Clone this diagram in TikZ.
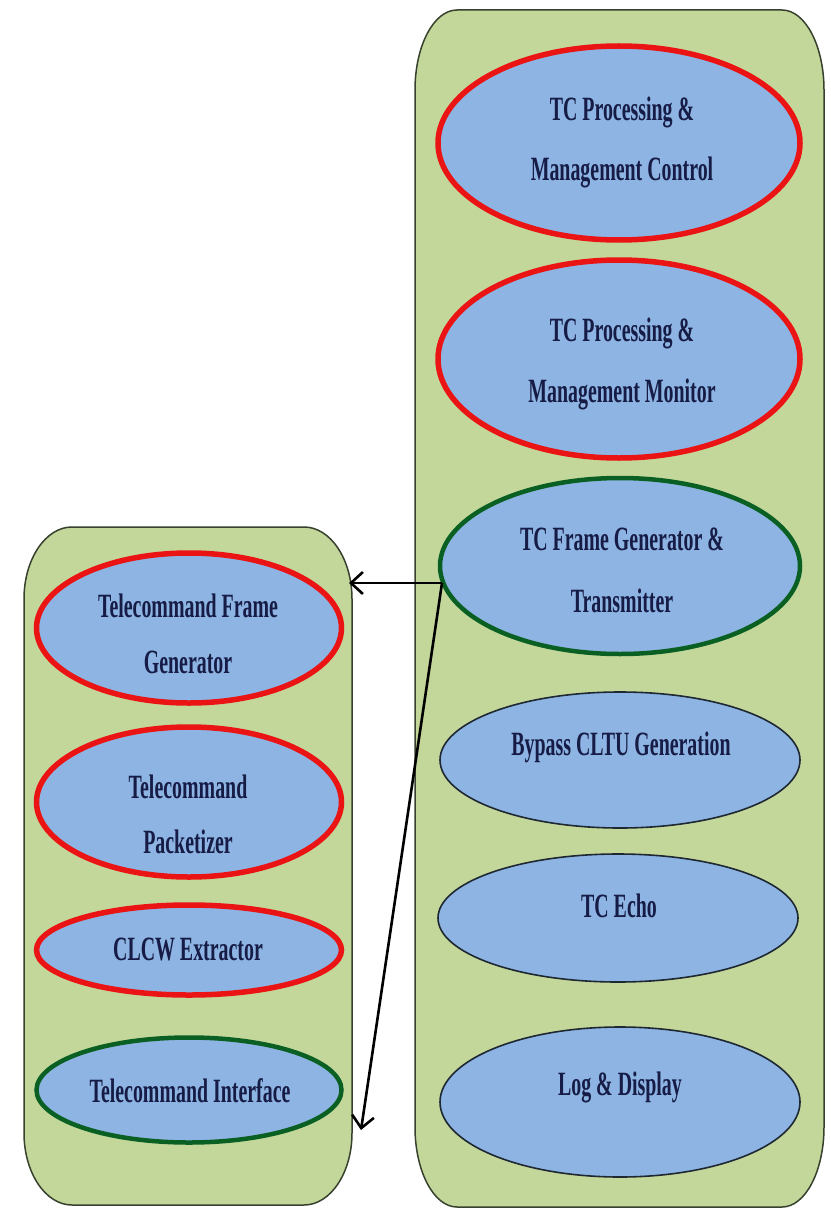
\documentclass[tikz,border=0pt]{standalone}
\usepackage{fontspec}
\setmainfont{Liberation Serif}
\newfontfamily\condfont[FakeStretch=0.585]{Liberation Serif}
\usetikzlibrary{shapes.geometric,arrows.meta,calc}
\definecolor{panelgreen}{RGB}{196,215,155}
\definecolor{panelline}{RGB}{55,65,45}
\definecolor{ellblue}{RGB}{141,180,226}
\definecolor{redline}{RGB}{235,20,20}
\definecolor{greenline}{RGB}{10,95,35}
\definecolor{darkline}{RGB}{30,40,50}
\definecolor{navytext}{RGB}{22,28,70}
\begin{document}
\begin{tikzpicture}[x=1pt,y=-1pt,
  panel/.style={fill=panelgreen,draw=panelline,line width=1.5pt},
  ell/.style={ellipse,fill=ellblue,inner sep=0pt,outer sep=0pt},
  redell/.style={ell,draw=redline,line width=5.5pt},
  greenell/.style={ell,draw=greenline,line width=4.5pt},
  plainell/.style={ell,draw=darkline,line width=1.6pt},
  txt/.style={inner sep=0pt,outer sep=0pt,text=navytext,align=center,
    font=\condfont\bfseries\fontsize{34}{#1}\selectfont},
  txt/.default=60,
  arr/.style={draw=black,line width=2.6pt,-{Straight Barb[length=12pt,width=22pt,line width=2.6pt]}}
]
\useasboundingbox (0,0) rectangle (830,1209);
\fill[white] (0,0) rectangle (830,1209);

% right panel
\draw[panel] (457,10) -- (782,10) .. controls (805.2,10) and (824,45.8) .. (824,90)
  -- (824,1127) .. controls (824,1171.2) and (805.2,1207) .. (782,1207)
  -- (457,1207) .. controls (433.8,1207) and (415,1171.2) .. (415,1127)
  -- (415,90) .. controls (415,45.8) and (433.8,10) .. cycle;
% left panel
\draw[panel] (72,527) -- (304,527) .. controls (330.5,527) and (352,559.3) .. (352,599)
  -- (352,1133) .. controls (352,1172.7) and (330.5,1205) .. (304,1205)
  -- (72,1205) .. controls (45.5,1205) and (24,1172.7) .. (24,1133)
  -- (24,599) .. controls (24,559.3) and (45.5,527) .. cycle;

% right ellipses
\node[redell,minimum width=362pt,minimum height=194pt] (r1) at (619,143) {};
\node[redell,minimum width=362pt,minimum height=198pt] (r2) at (619,359) {};
\node[greenell,minimum width=360pt,minimum height=176pt] (r3) at (620,566) {};
\node[plainell,minimum width=360pt,minimum height=136pt] (r4) at (620,760) {};
\node[plainell,minimum width=360pt,minimum height=128pt] (r5) at (618,918) {};
\node[plainell,minimum width=360pt,minimum height=150pt] (r6) at (620,1102) {};

% left ellipses
\node[redell,minimum width=305pt,minimum height=150pt] (l1) at (189,628) {};
\node[redell,minimum width=305pt,minimum height=150pt] (l2) at (189,802) {};
\node[redell,minimum width=305pt,minimum height=90pt] (l3) at (189,950) {};
\node[greenell,minimum width=305pt,minimum height=105pt] (l4) at (189,1090) {};

% texts
\node[txt=60] (tr1) at (622,142) {TC Processing \&\\Management Control};
\node[txt=61] (tr2) at (622,364) {TC Processing \&\\Management Monitor};
\node[txt=62] (tr3) at (622,570) {TC Frame Generator \&\\Transmitter};
\node[txt,anchor=base] (tr4) at (621,755) {Bypass CLTU Generation};
\node[txt,anchor=base] (tr5) at (619,917) {TC Echo};
\node[txt,anchor=base] (tr6) at (620,1095) {Log \& Display};

\node[txt=56] (tl1) at (188,634) {Telecommand Frame\\Generator};
\node[txt=55] (tl2) at (188,814) {Telecommand\\Packetizer};
\node[txt,anchor=base] (tl3) at (188,960) {CLCW Extractor};
\node[txt,anchor=base] (tl4) at (190,1102) {Telecommand Interface};

% connectors
\coordinate (src) at (442,583);
\coordinate (tip1) at (349,583);
\coordinate (tip2) at (361,1130);
\draw[arr] (src) -- (tip1);
\draw[arr] (src) -- (tip2);
\end{tikzpicture}
\end{document}
